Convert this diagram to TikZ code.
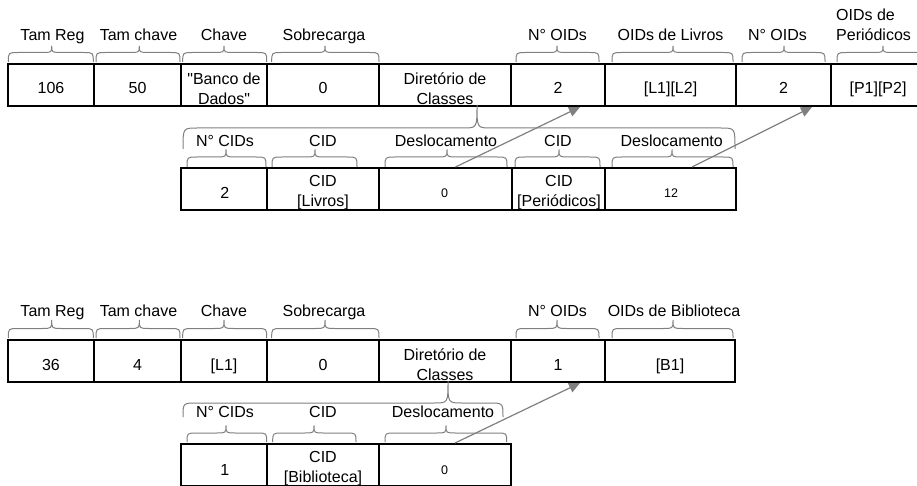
\documentclass[tikz,border=0pt]{standalone}
\usepackage{fontspec}
\setmainfont{Liberation Sans}
\usetikzlibrary{arrows.meta}
\definecolor{bracegray}{HTML}{808080}
\definecolor{linkgray}{HTML}{808080}

\tikzset{
  cell/.style={draw=black, line width=2pt, rectangle, minimum height=42pt, inner sep=0pt},
  txt/.style={inner sep=0pt, anchor=base, align=center, font=\fontsize{16}{20.5}\selectfont},
  smalltxt/.style={txt, font=\fontsize{12.5}{15}\selectfont},
  brace/.style={draw=bracegray, line width=1pt},
  link/.style={draw=linkgray, line width=1.2pt, -{Triangle[length=11pt,width=10pt]}}
}

% curly bracket: x-left, x-right, x-tip, y-ends, y-bar, y-tip, corner size
\newcommand\curly[7]{%
  \draw[brace] (#1,#4) .. controls (#1,#5) .. ({#1+#7},#5) -- ({#3-#7},#5)
    .. controls (#3,#5) .. (#3,#6) .. controls (#3,#5) .. ({#3+#7},#5)
    -- ({#2-#7},#5) .. controls (#2,#5) .. (#2,#4);}

\begin{document}
\begin{tikzpicture}[x=1pt,y=-1pt]
\fill[white] (0,0) rectangle (917,486);
\useasboundingbox (0,0) rectangle (917,486);

% ---------- first record ----------
% field labels (multi-line texts are placed by the baseline of their last line)
\node[txt] (la1) at (52.5,40.5) {Tam Reg};
\node[txt] (la2) at (138.5,40.5) {Tam chave};
\node[txt] (la3) at (224,40.5) {Chave};
\node[txt] (la4) at (324,40.5) {Sobrecarga};
\node[txt] (la6) at (557.5,40.5) {N° OIDs};
\node[txt] (la7) at (670.5,40.5) {OIDs de Livros};
\node[txt] (la8) at (777.5,40.5) {N° OIDs};
\node[txt, anchor=base west, align=left] (la9) at (836,40.7) {OIDs de\\Periódicos};

\curly{8.3}{93.3}{51.7}{62}{52.5}{46}{10}
\curly{96}{180}{139.3}{62}{52.5}{46}{10}
\curly{182.7}{266.7}{224}{62}{52.5}{46}{10}
\curly{271.7}{379}{325}{62}{52.5}{46}{10}
\curly{516}{599}{557}{62}{52.5}{46}{10}
\curly{612}{733}{673}{62}{52.5}{46}{10}
\curly{742}{825}{784}{62}{52.5}{46}{10}
\curly{837}{929}{883}{62}{52.5}{46}{10}

% record fields
\node[cell, minimum width=86] (a1) at (51,85) {};
\node[cell, minimum width=87] (a2) at (137.5,85) {};
\node[cell, minimum width=86] (a3) at (224,85) {};
\node[cell, minimum width=112] (a4) at (323,85) {};
\node[cell, minimum width=132] (a5) at (445,85) {};
\node[cell, minimum width=94] (a6) at (558,85) {};
\node[cell, minimum width=131] (a7) at (670.5,85) {};
\node[cell, minimum width=95] (a8) at (783.5,85) {};
\node[cell, minimum width=94] (a9) at (878,85) {};

\node[txt] (va1) at (51,94) {106};
\node[txt] (va2) at (137.5,94) {50};
\node[txt] (va3) at (224,104.7) {\textquotedbl Banco de\\Dados\textquotedbl};
\node[txt] (va4) at (323,94) {0};
\node[txt] (va5) at (445,104.7) {Diretório de\\Classes};
\node[txt] (va6) at (558,94) {2};
\node[txt] (va7) at (670.5,94) {[L1][L2]};
\node[txt] (va8) at (783.5,94) {2};
\node[txt] (va9) at (878,94) {[P1][P2]};

% class directory
\curly{183}{735}{477}{149}{128}{105}{14}

\node[txt] (lb1) at (225,146.7) {N° CIDs};
\node[txt] (lb2) at (323,146.7) {CID};
\node[txt] (lb3) at (446,146.7) {Deslocamento};
\node[txt] (lb4) at (558,146.7) {CID};
\node[txt] (lb5) at (671.7,146.7) {Deslocamento};

\curly{187}{266}{226}{167}{157}{149.5}{10}
\curly{272}{357}{315}{167}{157}{149.5}{10}
\curly{385}{507}{447}{167}{157}{149.5}{10}
\curly{515}{600}{559}{167}{157}{149.5}{10}
\curly{612}{733}{672}{167}{157}{149.5}{10}

\node[cell, minimum width=86] (b1) at (224,189) {};
\node[cell, minimum width=112] (b2) at (323,189) {};
\node[cell, minimum width=133] (b3) at (445.5,189) {};
\node[cell, minimum width=93] (b4) at (558.5,189) {};
\node[cell, minimum width=131] (b5) at (670.5,189) {};

\node[txt] (vb1) at (224.7,199) {2};
\node[txt] (vb2) at (323,206.7) {CID\\{}[Livros]};
\node[smalltxt] (vb3) at (444.5,198) {0};
\node[txt] (vb4) at (559,206.7) {CID\\{}[Periódicos]};
\node[smalltxt] (vb5) at (671,198) {12};

\draw[link] ([xshift=10pt]b3.north) -- ([xshift=22pt]a6.south);
\draw[link] ([xshift=21.5pt]b5.north) -- ([xshift=28.5pt]a8.south);

% ---------- second record ----------
\node[txt] (lc1) at (52.5,316) {Tam Reg};
\node[txt] (lc2) at (138.5,316) {Tam chave};
\node[txt] (lc3) at (224,316) {Chave};
\node[txt] (lc4) at (324,316) {Sobrecarga};
\node[txt] (lc6) at (557.5,316) {N° OIDs};
\node[txt] (lc7) at (674,316) {OIDs de Biblioteca};

\curly{8.3}{93.3}{51.7}{338}{328.5}{320}{10}
\curly{96}{180}{139.3}{338}{328.5}{320}{10}
\curly{182.7}{266.7}{224}{338}{328.5}{320}{10}
\curly{271.7}{379}{325}{338}{328.5}{320}{10}
\curly{516}{599}{557}{338}{328.5}{320}{10}
\curly{612}{733}{673}{338}{328.5}{320}{10}

\node[cell, minimum width=86] (c1) at (51,361) {};
\node[cell, minimum width=87] (c2) at (137.5,361) {};
\node[cell, minimum width=86] (c3) at (224,361) {};
\node[cell, minimum width=112] (c4) at (323,361) {};
\node[cell, minimum width=132] (c5) at (445,361) {};
\node[cell, minimum width=94] (c6) at (558,361) {};
\node[cell, minimum width=130] (c7) at (670,361) {};

\node[txt] (vc1) at (51,370) {36};
\node[txt] (vc2) at (137.5,370) {4};
\node[txt] (vc3) at (224,370) {[L1]};
\node[txt] (vc4) at (323,370) {0};
\node[txt] (vc5) at (445,380.7) {Diretório de\\Classes};
\node[txt] (vc6) at (558,370) {1};
\node[txt] (vc7) at (670,370) {[B1]};

\curly{183}{503}{448}{417}{403}{381}{14}

\node[txt] (ld1) at (225,417) {N° CIDs};
\node[txt] (ld2) at (323,417) {CID};
\node[txt] (ld3) at (443,417) {Deslocamento};

\curly{187}{266.7}{226}{442}{433}{425.5}{10}
\curly{272.7}{356}{314}{442}{433}{425.5}{10}
\curly{385}{506.7}{446}{442}{433}{425.5}{10}

\node[cell, minimum width=86] (d1) at (224,465) {};
\node[cell, minimum width=112] (d2) at (323,465) {};
\node[cell, minimum width=132] (d3) at (445,465) {};

\node[txt] (vd1) at (224.7,475) {1};
\node[txt] (vd2) at (323,482.7) {CID\\{}[Biblioteca]};
\node[smalltxt] (vd3) at (444.5,474) {0};

\draw[link] ([xshift=10pt]d3.north) -- ([xshift=22pt]c6.south);
\end{tikzpicture}
\end{document}
